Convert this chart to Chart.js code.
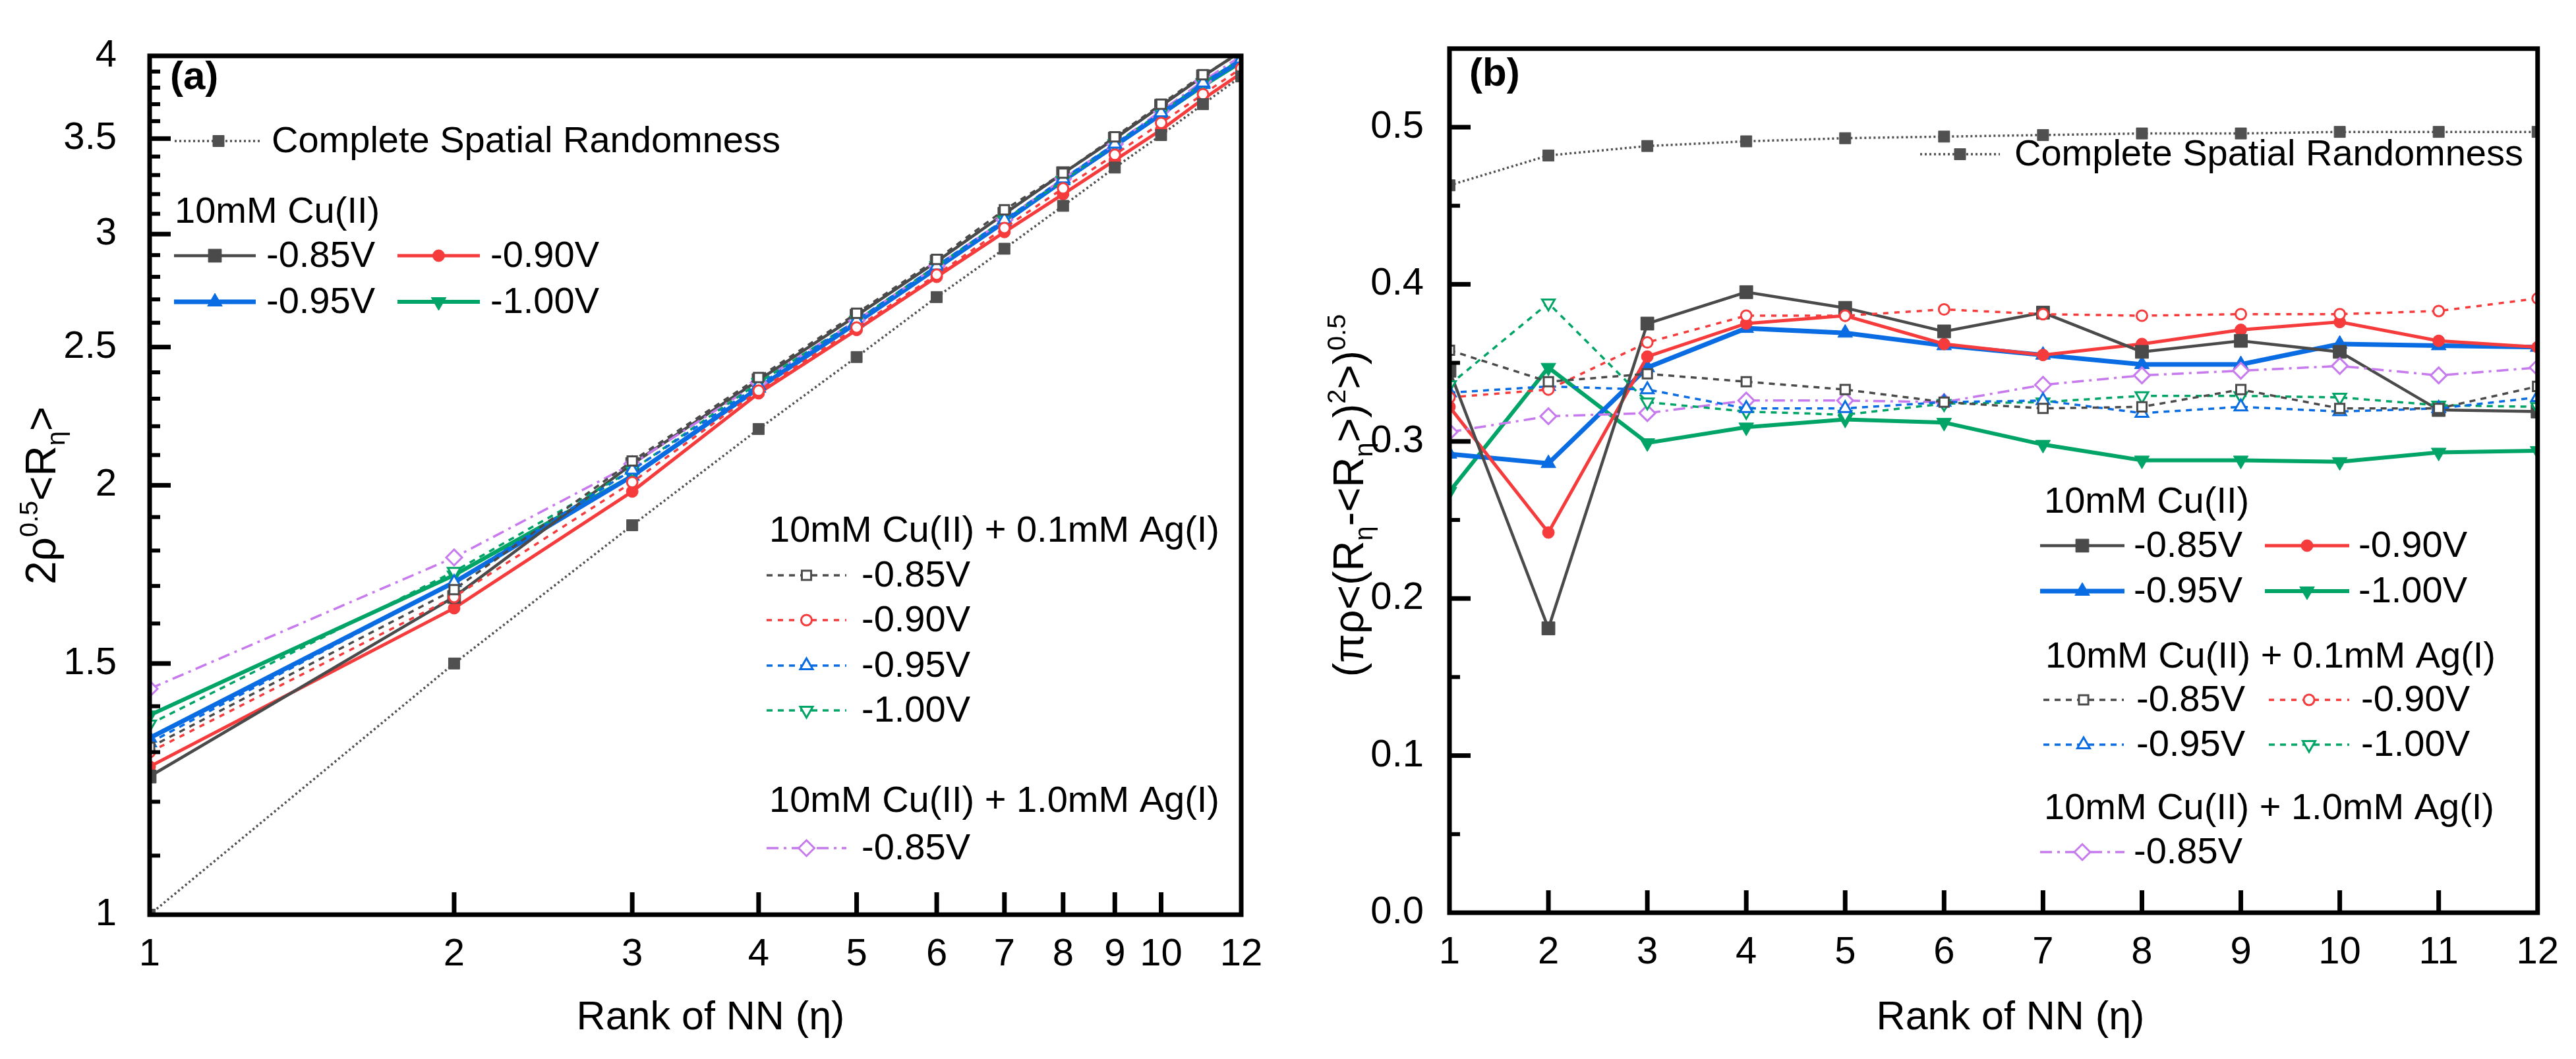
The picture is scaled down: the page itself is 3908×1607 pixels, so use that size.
<!DOCTYPE html>
<html>
<head>
<meta charset="utf-8">
<script src="https://cdn.jsdelivr.net/npm/chart.js@4.4.1/dist/chart.umd.min.js"></script>
<style>
  html, body { margin: 0; padding: 0; background: #fff; overflow: hidden; }
  #wrapA { position: absolute; left: 0; top: 0; width: 1954px; height: 1607px; }
  #wrapB { position: absolute; left: 1954px; top: 0; width: 1954px; height: 1607px; }
</style>
</head>
<body>
<div id="wrapA"><canvas id="chartA" width="1954" height="1607"></canvas></div>
<div id="wrapB"><canvas id="chartB" width="1954" height="1607"></canvas></div>
<script>
// rank of nearest neighbour
const eta = [1, 2, 3, 4, 5, 6, 7, 8, 9, 10, 11, 12];

// panel (a): 2 rho^0.5 <R_eta>
const csrA     = [1.00, 1.50, 1.875, 2.19, 2.46, 2.71, 2.93, 3.14, 3.34, 3.52, 3.70, 3.87];
const cuA085   = [1.25, 1.67, 2.07, 2.37, 2.63, 2.87, 3.10, 3.31, 3.50, 3.69, 3.87, 4.03];
const cuA090   = [1.27, 1.64, 1.98, 2.32, 2.57, 2.80, 3.01, 3.20, 3.38, 3.55, 3.73, 3.89];
const cuA095   = [1.33, 1.71, 2.03, 2.34, 2.60, 2.84, 3.06, 3.27, 3.46, 3.64, 3.82, 3.97];
const cuA100   = [1.38, 1.73, 2.03, 2.34, 2.60, 2.84, 3.06, 3.27, 3.46, 3.64, 3.81, 3.96];
const ag01A085 = [1.31, 1.69, 2.08, 2.38, 2.64, 2.88, 3.12, 3.31, 3.51, 3.70, 3.88, 4.02];
const ag01A090 = [1.30, 1.67, 2.01, 2.33, 2.58, 2.81, 3.03, 3.23, 3.41, 3.59, 3.76, 3.92];
const ag01A095 = [1.32, 1.71, 2.05, 2.35, 2.61, 2.85, 3.07, 3.28, 3.47, 3.65, 3.83, 3.98];
const ag01A100 = [1.36, 1.74, 2.05, 2.36, 2.61, 2.85, 3.07, 3.27, 3.47, 3.65, 3.83, 3.98];
const ag1A085  = [1.44, 1.78, 2.07, 2.36, 2.61, 2.85, 3.07, 3.28, 3.47, 3.66, 3.84, 4.00];

// panel (b): (pi rho <(R - <R>)^2>)^0.5
const csrB     = [0.463, 0.482, 0.488, 0.491, 0.493, 0.494, 0.495, 0.496, 0.496, 0.497, 0.497, 0.497];
const cuB085   = [0.345, 0.181, 0.375, 0.395, 0.385, 0.370, 0.382, 0.357, 0.364, 0.357, 0.320, 0.319];
const cuB090   = [0.322, 0.242, 0.354, 0.375, 0.380, 0.362, 0.355, 0.362, 0.371, 0.376, 0.364, 0.360];
const cuB095   = [0.292, 0.286, 0.347, 0.372, 0.369, 0.361, 0.355, 0.349, 0.349, 0.362, 0.361, 0.360];
const cuB100   = [0.268, 0.347, 0.299, 0.309, 0.314, 0.312, 0.298, 0.288, 0.288, 0.287, 0.293, 0.294];
const ag01B085 = [0.358, 0.338, 0.343, 0.338, 0.333, 0.325, 0.321, 0.322, 0.333, 0.321, 0.321, 0.335];
const ag01B090 = [0.328, 0.333, 0.363, 0.380, 0.380, 0.384, 0.381, 0.380, 0.381, 0.381, 0.383, 0.391];
const ag01B095 = [0.331, 0.335, 0.333, 0.321, 0.321, 0.325, 0.326, 0.318, 0.322, 0.319, 0.321, 0.328];
const ag01B100 = [0.336, 0.388, 0.325, 0.319, 0.317, 0.324, 0.325, 0.329, 0.329, 0.328, 0.323, 0.322];
const ag1B085  = [0.306, 0.316, 0.318, 0.326, 0.326, 0.325, 0.336, 0.342, 0.345, 0.348, 0.342, 0.347];

// tick labels
const xTicksA = [1, 2, 3, 4, 5, 6, 7, 8, 9, 10, 12];
const yTicksA = [1, 1.5, 2, 2.5, 3, 3.5, 4];
const yTicksB = [0, 0.1, 0.2, 0.3, 0.4, 0.5];

const FONT = "'Liberation Sans', Arial, Helvetica, sans-serif";
Chart.defaults.font.family = FONT;
Chart.defaults.color = '#000';

const GRAY = '#4a4a4a', RED = '#f53b3b', BLUE = '#0a6ce2', GREEN = '#00a466', PURPLE = '#c77aee';

const st = {
  csr:   {color: '#505050', width: 3.5, dash: [3, 4], style: 'rect', r: 12},
  cu085: {color: GRAY, width: 4.5, dash: [], style: 'rect', r: 14},
  cu090: {color: RED, width: 5, dash: [], style: 'circle', r: 9},
  cu095: {color: BLUE, width: 7, dash: [], style: 'triangle', r: 13},
  cu100: {color: GREEN, width: 6, dash: [], style: 'triangle', rot: 180, r: 13},
  ag085: {color: GRAY, width: 3.5, dash: [9, 8], style: 'rect', r: 10, open: true},
  ag090: {color: RED, width: 3.5, dash: [8, 9], style: 'circle', r: 8, open: true},
  ag095: {color: BLUE, width: 3.5, dash: [9, 8], style: 'triangle', r: 11, open: true},
  ag100: {color: GREEN, width: 3.5, dash: [9, 8], style: 'triangle', rot: 180, r: 11, open: true},
  ag1:   {color: PURPLE, width: 3.5, dash: [18, 8, 4, 8], style: 'rectRot', r: 12, open: true}
};

function series(label, vals, s) {
  return {
    label: label,
    data: eta.map((x, i) => ({x: x, y: vals[i]})),
    borderColor: s.color,
    borderWidth: s.width,
    borderDash: s.dash,
    tension: 0,
    fill: false,
    pointStyle: s.style,
    pointRadius: s.r,
    pointRotation: s.rot || 0,
    pointBackgroundColor: s.open ? '#fff' : s.color,
    pointBorderColor: s.color,
    pointBorderWidth: s.open ? 3 : 1
  };
}

function marker(ctx, s, x, y) {
  ctx.save();
  ctx.setLineDash([]);
  ctx.fillStyle = s.open ? '#fff' : s.color;
  ctx.strokeStyle = s.color;
  ctx.lineWidth = s.open ? 3 : 1;
  Chart.helpers.drawPoint(ctx, {pointStyle: s.style, radius: s.r, rotation: s.rot || 0, borderWidth: ctx.lineWidth}, x, y);
  ctx.restore();
}

// text with super/subscripts: parts = [[text, 0|1|-1], ...]
function richWidth(ctx, parts, size) {
  let w = 0;
  parts.forEach(p => {
    ctx.font = (p[1] ? size * 0.62 : size) + 'px ' + FONT;
    w += ctx.measureText(p[0]).width;
  });
  return w;
}
function drawRich(ctx, parts, size, x, y) {
  parts.forEach(p => {
    const fs = p[1] ? size * 0.62 : size;
    ctx.font = fs + 'px ' + FONT;
    const dy = p[1] === 1 ? -0.42 * size : (p[1] === -1 ? 0.22 * size : 0);
    ctx.fillText(p[0], x, y + dy);
    x += ctx.measureText(p[0]).width;
  });
}

const deco = {
  id: 'deco',
  afterDraw(chart, args, o) {
    const ctx = chart.ctx, a = chart.chartArea;
    const xs = chart.scales.x, ys = chart.scales.y;
    ctx.save();
    ctx.strokeStyle = '#000';
    ctx.lineCap = 'butt';
    ctx.setLineDash([]);
    const seg = (x1, y1, x2, y2, w) => {
      ctx.lineWidth = w;
      ctx.beginPath(); ctx.moveTo(x1, y1); ctx.lineTo(x2, y2); ctx.stroke();
    };
    o.yMajor.forEach(v => { const y = ys.getPixelForValue(v); seg(a.left, y, a.left + 32, y, 7); });
    o.yMinor.forEach(v => { const y = ys.getPixelForValue(v); seg(a.left, y, a.left + 16, y, 6); });
    o.xMajor.forEach(v => { const x = xs.getPixelForValue(v); seg(x, a.bottom, x, a.bottom - 34, 7); });
    ctx.lineWidth = 7;
    ctx.strokeRect(a.left, a.top, a.right - a.left, a.bottom - a.top);

    // panel label
    ctx.fillStyle = '#000';
    ctx.textBaseline = 'middle';
    ctx.textAlign = 'left';
    ctx.font = 'bold 60px ' + FONT;
    ctx.fillText(o.panel.text, o.panel.x, o.panel.y);

    // legend
    o.legend.forEach(it => {
      if (it.s) {
        const s = it.s;
        ctx.save();
        ctx.strokeStyle = s.color;
        ctx.lineWidth = s.width;
        ctx.setLineDash(s.dash);
        ctx.beginPath(); ctx.moveTo(it.x1, it.y); ctx.lineTo(it.x2, it.y); ctx.stroke();
        ctx.restore();
        marker(ctx, s, (it.x1 + it.x2) / 2, it.y);
        ctx.fillStyle = '#000';
        ctx.font = '56px ' + FONT;
        ctx.fillText(it.text, it.tx, it.y + 2);
      } else {
        ctx.fillStyle = '#000';
        ctx.font = '56px ' + FONT;
        ctx.fillText(it.text, it.x, it.y + 2);
      }
    });

    // axis titles
    ctx.textBaseline = 'alphabetic';
    ctx.textAlign = 'left';
    const xt = o.xTitle;
    let w = richWidth(ctx, xt.parts, xt.size);
    drawRich(ctx, xt.parts, xt.size, xt.cx - w / 2, xt.by);
    const yt = o.yTitle;
    ctx.save();
    ctx.translate(yt.bx, yt.cy);
    ctx.rotate(-Math.PI / 2);
    w = richWidth(ctx, yt.parts, yt.size);
    drawRich(ctx, yt.parts, yt.size, -w / 2, 0);
    ctx.restore();
    ctx.restore();
  }
};

// ---------------- panel (a) ----------------
const OX = 1954; // left offset of panel (b) canvas
const legendA = [
  {s: st.csr, x1: 265, x2: 398, y: 214, tx: 412, text: 'Complete Spatial Randomness'},
  {x: 265, y: 321, text: '10mM Cu(II)'},
  {s: st.cu085, x1: 264, x2: 388, y: 388, tx: 404, text: '-0.85V'},
  {s: st.cu090, x1: 603, x2: 728, y: 388, tx: 744, text: '-0.90V'},
  {s: st.cu095, x1: 264, x2: 388, y: 458, tx: 404, text: '-0.95V'},
  {s: st.cu100, x1: 603, x2: 728, y: 458, tx: 744, text: '-1.00V'},
  {x: 1167, y: 805, text: '10mM Cu(II) + 0.1mM Ag(I)'},
  {s: st.ag085, x1: 1163, x2: 1284, y: 873, tx: 1307, text: '-0.85V'},
  {s: st.ag090, x1: 1163, x2: 1284, y: 941, tx: 1307, text: '-0.90V'},
  {s: st.ag095, x1: 1163, x2: 1284, y: 1010, tx: 1307, text: '-0.95V'},
  {s: st.ag100, x1: 1163, x2: 1284, y: 1078, tx: 1307, text: '-1.00V'},
  {x: 1167, y: 1215, text: '10mM Cu(II) + 1.0mM Ag(I)'},
  {s: st.ag1, x1: 1163, x2: 1284, y: 1287, tx: 1307, text: '-0.85V'}
];

new Chart(document.getElementById('chartA').getContext('2d'), {
  type: 'line',
  data: {
    datasets: [
      series('Complete Spatial Randomness', csrA, st.csr),
      series('0.1mM Ag -0.85V', ag01A085, st.ag085),
      series('0.1mM Ag -0.90V', ag01A090, st.ag090),
      series('0.1mM Ag -0.95V', ag01A095, st.ag095),
      series('0.1mM Ag -1.00V', ag01A100, st.ag100),
      series('1.0mM Ag -0.85V', ag1A085, st.ag1),
      series('Cu -0.85V', cuA085, st.cu085),
      series('Cu -0.90V', cuA090, st.cu090),
      series('Cu -0.95V', cuA095, st.cu095),
      series('Cu -1.00V', cuA100, st.cu100)
    ]
  },
  options: {
    responsive: false,
    animation: false,
    layout: {padding: {left: 0, right: 71, top: 54, bottom: 0}},
    scales: {
      x: {
        type: 'logarithmic', min: 1, max: 12,
        grid: {display: false, drawTicks: false},
        border: {display: false},
        afterBuildTicks: s => { s.ticks = xTicksA.map(v => ({value: v})); },
        afterFit: s => { s.height = 1607 - 1388; },
        ticks: {autoSkip: false, maxRotation: 0, padding: 26, font: {size: 58}, callback: v => String(v)}
      },
      y: {
        type: 'logarithmic', min: 1, max: 4,
        grid: {display: false, drawTicks: false},
        border: {display: false},
        afterBuildTicks: s => { s.ticks = yTicksA.map(v => ({value: v})); },
        afterFit: s => { s.width = 227; },
        ticks: {autoSkip: false, padding: 50, font: {size: 58}, callback: v => String(v)}
      }
    },
    plugins: {
      legend: {display: false},
      tooltip: {enabled: false},
      deco: {
        yMajor: [1.5, 2, 2.5, 3, 3.5],
        yMinor: [1.1, 1.2, 1.3, 1.4, 1.6, 1.7, 1.8, 1.9, 2.1, 2.2, 2.3, 2.4, 2.6, 2.7, 2.8, 2.9, 3.1, 3.2, 3.3, 3.4, 3.6, 3.7, 3.8, 3.9],
        xMajor: [2, 3, 4, 5, 6, 7, 8, 9, 10],
        panel: {text: '(a)', x: 258, y: 118},
        legend: legendA,
        xTitle: {parts: [['Rank of NN (η)', 0]], size: 61, cx: 1078, by: 1562},
        yTitle: {parts: [['2ρ', 0], ['0.5', 1], ['<R', 0], ['η', -1], ['>', 0]], size: 64, bx: 84, cy: 752}
      }
    }
  },
  plugins: [deco]
});

// ---------------- panel (b) ----------------
const legendB = [
  {s: st.csr, x1: 2913 - OX, x2: 3034 - OX, y: 234, tx: 3056 - OX, text: 'Complete Spatial Randomness'},
  {x: 3101 - OX, y: 761, text: '10mM Cu(II)'},
  {s: st.cu085, x1: 3095 - OX, x2: 3223 - OX, y: 828, tx: 3237 - OX, text: '-0.85V'},
  {s: st.cu090, x1: 3436 - OX, x2: 3564 - OX, y: 828, tx: 3578 - OX, text: '-0.90V'},
  {s: st.cu095, x1: 3095 - OX, x2: 3223 - OX, y: 897, tx: 3237 - OX, text: '-0.95V'},
  {s: st.cu100, x1: 3436 - OX, x2: 3564 - OX, y: 897, tx: 3578 - OX, text: '-1.00V'},
  {x: 3103 - OX, y: 996, text: '10mM Cu(II) + 0.1mM Ag(I)'},
  {s: st.ag085, x1: 3100 - OX, x2: 3222 - OX, y: 1062, tx: 3241 - OX, text: '-0.85V'},
  {s: st.ag090, x1: 3442 - OX, x2: 3564 - OX, y: 1062, tx: 3582 - OX, text: '-0.90V'},
  {s: st.ag095, x1: 3100 - OX, x2: 3222 - OX, y: 1130, tx: 3241 - OX, text: '-0.95V'},
  {s: st.ag100, x1: 3442 - OX, x2: 3564 - OX, y: 1130, tx: 3582 - OX, text: '-1.00V'},
  {x: 3101 - OX, y: 1226, text: '10mM Cu(II) + 1.0mM Ag(I)'},
  {s: st.ag1, x1: 3095 - OX, x2: 3223 - OX, y: 1293, tx: 3237 - OX, text: '-0.85V'}
];

new Chart(document.getElementById('chartB').getContext('2d'), {
  type: 'line',
  data: {
    datasets: [
      series('Complete Spatial Randomness', csrB, st.csr),
      series('0.1mM Ag -0.85V', ag01B085, st.ag085),
      series('0.1mM Ag -0.90V', ag01B090, st.ag090),
      series('0.1mM Ag -0.95V', ag01B095, st.ag095),
      series('0.1mM Ag -1.00V', ag01B100, st.ag100),
      series('1.0mM Ag -0.85V', ag1B085, st.ag1),
      series('Cu -0.85V', cuB085, st.cu085),
      series('Cu -0.90V', cuB090, st.cu090),
      series('Cu -0.95V', cuB095, st.cu095),
      series('Cu -1.00V', cuB100, st.cu100)
    ]
  },
  options: {
    responsive: false,
    animation: false,
    layout: {padding: {left: 0, right: 51, top: 48, bottom: 0}},
    scales: {
      x: {
        type: 'linear', min: 1, max: 12,
        grid: {display: false, drawTicks: false},
        border: {display: false},
        afterBuildTicks: s => { s.ticks = eta.map(v => ({value: v})); },
        afterFit: s => { s.height = 1607 - 1385; },
        ticks: {autoSkip: false, maxRotation: 0, padding: 26, font: {size: 58}, callback: v => String(v)}
      },
      y: {
        type: 'linear', min: 0, max: 0.55,
        grid: {display: false, drawTicks: false},
        border: {display: false},
        afterBuildTicks: s => { s.ticks = yTicksB.map(v => ({value: v})); },
        afterFit: s => { s.width = 2199 - OX; },
        ticks: {autoSkip: false, padding: 39, font: {size: 58}, callback: v => v.toFixed(1)}
      }
    },
    plugins: {
      legend: {display: false},
      tooltip: {enabled: false},
      deco: {
        yMajor: [0.1, 0.2, 0.3, 0.4, 0.5],
        yMinor: [0.05, 0.15, 0.25, 0.35, 0.45],
        xMajor: [2, 3, 4, 5, 6, 7, 8, 9, 10, 11],
        panel: {text: '(b)', x: 2229 - OX, y: 113},
        legend: legendB,
        xTitle: {parts: [['Rank of NN (η)', 0]], size: 61, cx: 3050 - OX, by: 1562},
        yTitle: {parts: [['(πρ<(R', 0], ['η', -1], ['-<R', 0], ['η', -1], ['>)', 0], ['2', 1], ['>)', 0], ['0.5', 1]], size: 64, bx: 2068 - OX, cy: 752}
      }
    }
  },
  plugins: [deco]
});
</script>
</body>
</html>
